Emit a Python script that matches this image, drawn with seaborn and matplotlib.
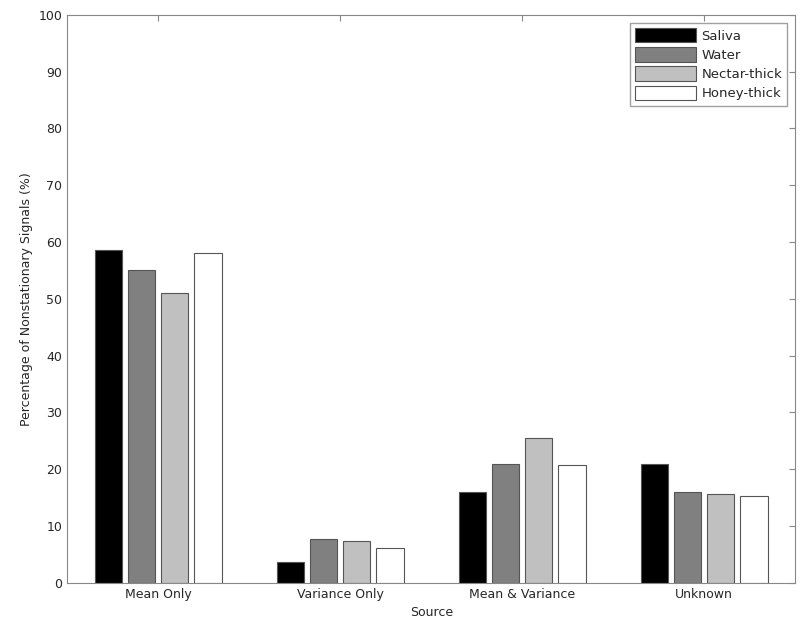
import numpy as np
import pandas as pd
import matplotlib
matplotlib.use("Agg")
import matplotlib.pyplot as plt
import seaborn as sns

categories = ["Mean Only", "Variance Only", "Mean & Variance", "Unknown"]
series_names = ["Saliva", "Water", "Nectar-thick", "Honey-thick"]
saliva = [58.6, 3.7, 16.0, 21.0]
water = [55.0, 7.7, 21.0, 16.0]
nectar = [51.0, 7.4, 25.5, 15.7]
honey = [58.0, 6.1, 20.8, 15.2]
colors = ["#000000", "#808080", "#c0c0c0", "#ffffff"]

rows = []
for name, vals in zip(series_names, [saliva, water, nectar, honey]):
    for c, v in zip(categories, vals):
        rows.append({"Source": c, "Fluid": name, "Value": v})
df = pd.DataFrame(rows)

sns.set_style("white")
plt.rcParams['font.family'] = ['DejaVu Sans']
fig = plt.figure(figsize=(8, 6.44), dpi=100)
ax = fig.add_axes([0.084, 0.095, 0.91, 0.882])
sns.barplot(data=df, x="Source", y="Value", hue="Fluid", order=categories,
            hue_order=series_names, palette=colors, width=0.727, gap=0.17,
            edgecolor="#555555", linewidth=0.8, saturation=1, ax=ax)
ax.set_xlim(-0.5, 3.5)
ax.set_ylim(0, 100)
ax.set_yticks(np.arange(0, 101, 10))
ax.set_xlabel("Source", fontsize=9)
ax.set_ylabel("Percentage of Nonstationary Signals (%)", fontsize=9)
ax.tick_params(direction="in", length=4, labelsize=9, top=True, right=True,
               color="#888888")
for s in ax.spines.values():
    s.set_color("#888888")
    s.set_linewidth(0.8)
leg = ax.legend(loc="upper right", fontsize=9.5, frameon=True, fancybox=False,
                edgecolor="#888888", handlelength=4.6, handleheight=1.3,
                labelspacing=0.35, handletextpad=0.4, borderaxespad=0.6)
fig.savefig("out.png", dpi=100)
